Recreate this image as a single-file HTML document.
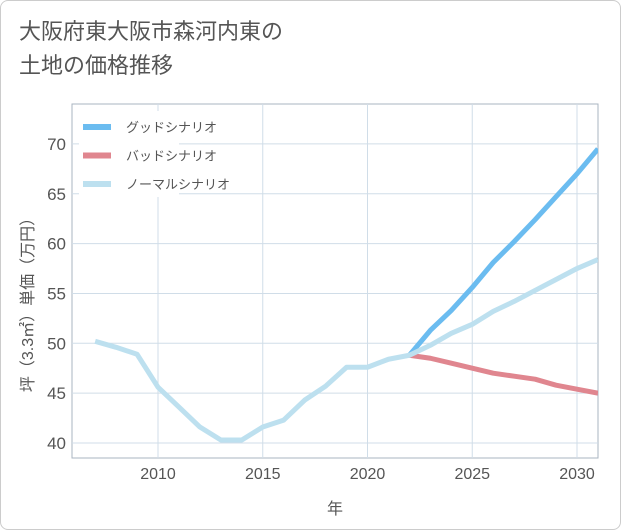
<!DOCTYPE html>
<html><head><meta charset="utf-8"><style>
body{margin:0;background:#fff;}
#card{position:absolute;left:0;top:0;width:619px;height:528px;border:1px solid #ccc;border-radius:8px;background:#fff;overflow:hidden;}
#title{position:absolute;left:18px;top:14px;font:22px "Liberation Sans","Noto Sans CJK JP",sans-serif;color:#555;line-height:34px;}
svg text{font-family:"Liberation Sans","Noto Sans CJK JP",sans-serif;}
</style></head><body>
<div id="card">
<div id="title">大阪府東大阪市森河内東の<br>土地の価格推移</div>
<svg id="chart" width="621" height="530" style="position:absolute;left:0;top:0"></svg>
</div>
<script>
const years=[2007,2008,2009,2010,2011,2012,2013,2014,2015,2016,2017,2018,2019,2020,2021,2022,2023,2024,2025,2026,2027,2028,2029,2030,2031];
const normal=[50.2,49.6,48.9,45.6,43.6,41.6,40.3,40.3,41.6,42.3,44.3,45.7,47.6,47.6,48.4,48.8,49.8,51.0,51.9,53.2,54.2,55.3,56.4,57.5,58.4];
const futureYears=[2022,2023,2024,2025,2026,2027,2028,2029,2030,2031];
const good=[48.8,51.3,53.3,55.6,58.1,60.2,62.4,64.7,67.0,69.5];
const bad=[48.8,48.5,48.0,47.5,47.0,46.7,46.4,45.8,45.4,45.0];
const xTicks=[2010,2015,2020,2025,2030];
const yTicks=[40,45,50,55,60,65,70];
const NS='http://www.w3.org/2000/svg';
const svg=document.getElementById('chart');
const L=71,R=597,T=103,B=457;
const xs=y=>157+(y-2010)*20.95;
const ys=v=>442-(v-40)*9.97;
function mk(tag,attrs){const e=document.createElementNS(NS,tag);for(const k in attrs)e.setAttribute(k,attrs[k]);svg.appendChild(e);return e;}
const frame=mk('rect',{x:L,y:T,width:R-L,height:B-T,fill:'none',stroke:'#aab4c0','stroke-width':1});


yTicks.forEach(v=>{
 const g=mk('line',{x1:L,x2:R,y1:ys(v),y2:ys(v),stroke:'#d0dde8','stroke-width':1});
 
 
 const t=mk('text',{x:L-6,y:ys(v)+6,'text-anchor':'end','font-size':17,fill:'#555'});t.textContent=v;
 
 
});
xTicks.forEach(v=>{
 const g=mk('line',{x1:xs(v),x2:xs(v),y1:T,y2:B,stroke:'#d0dde8','stroke-width':1});
 
 
 const t=mk('text',{x:xs(v),y:B+21,'text-anchor':'middle','font-size':16,fill:'#555'});t.textContent=v;
 
 
});
function line(xv,yv,color,name){
 const d=xv.map((x,i)=>(i?'L':'M')+xs(x)+','+ys(yv[i])).join(' ');
 const p=mk('path',{d:d,fill:'none',stroke:color,'stroke-width':5,'stroke-linejoin':'round'});
 
 
}
svg.insertAdjacentHTML('beforeend','<defs><clipPath id="c"><rect x="71" y="103" width="526" height="354"/></clipPath></defs>');
line(futureYears,bad,'#e0868f','bad-scenario-line');
line(futureYears,good,'#6bbcf0','good-scenario-line');
line(years,normal,'#bde0ef','normal-scenario-line');
svg.querySelectorAll('path').forEach(p=>p.setAttribute('clip-path','url(#c)'));
const lg=mk('rect',{x:78,y:110,width:100,height:86,fill:'#fff'});


[['グッドシナリオ','#6bbcf0'],['バッドシナリオ','#e0868f'],['ノーマルシナリオ','#bde0ef']].forEach((e,i)=>{
 const y=126+i*28.5;
 const l=mk('line',{x1:82,x2:110,y1:y,y2:y,stroke:e[1],'stroke-width':6});
 
 
 const t=mk('text',{x:125,y:y+5,'font-size':13,fill:'#555'});t.textContent=e[0];
 
 
});
const xt=mk('text',{x:334,y:513,'text-anchor':'middle','font-size':16,fill:'#555'});xt.textContent='年';


const yt=mk('text',{x:0,y:0,'text-anchor':'middle','font-size':16,fill:'#555',transform:'translate(32,300) rotate(-90)'});yt.textContent='坪（3.3㎡）単価（万円）';


</script>
</body></html>
